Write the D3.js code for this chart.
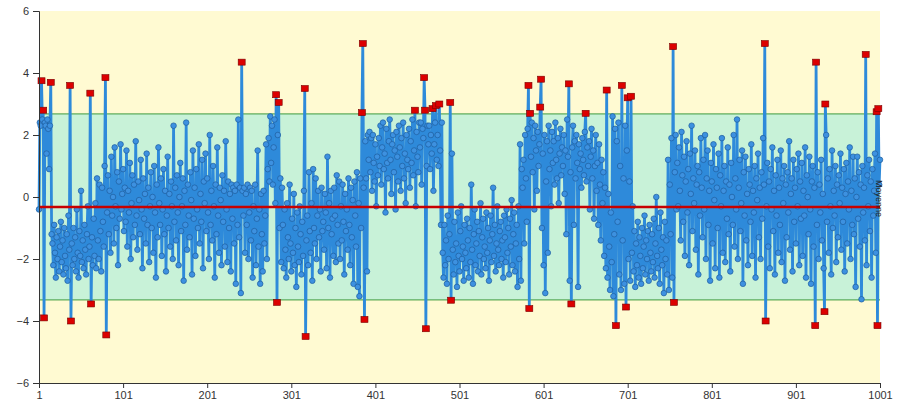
<!DOCTYPE html>
<html>
<head>
<meta charset="utf-8">
<title>Carte de contrôle</title>
<script src="https://cdn.jsdelivr.net/npm/d3@7"></script>
<style>
  body { margin: 0; background: #fff; }
  svg { display: block; font-family: "Liberation Sans", Arial, sans-serif; }
</style>
</head>
<body>
<div id="chart"></div>
<script>
// values, grouped by regime
const segStart = [-0.4, 2.4, 2.3, 3.75, 2.5, 2.8, -3.9, 2.4, 2.3, 1.4, 2.5, 2.2, 0.9, 2.3, 3.7, -1.2];
const segLow1 = [
  -1.5, -2.2, -0.9, -1.8, -2.6, -1.3, -2.0, -1.1, -2.4, -1.6,
  -0.8, -2.1, -1.4, -2.5, -1.0, -1.9, -2.3, -1.2, -2.7, -0.6,
  -1.7, 3.6, -4.0, -1.5, -2.2, -1.0, -2.0, -1.3, -2.4, -0.4,
  -1.8, -2.6, -1.1, -1.9, 0.2, -2.1, -1.4, -2.3, -0.9, -1.7,
  -2.5, -1.2, -0.3, -2.0, -1.6, 3.35, -3.45, -1.3, -2.2, -0.7,
  -1.9, -0.2, -2.3, 0.6, -1.4, -2.0, 0.4, -1.1, -2.4, 0.3,
  -0.8, -1.6, 1.0, 3.85, -4.45, -0.5, 0.7, -1.2, 0.2, -1.8,
  1.3, -0.6, 0.0, -1.5, 1.6, -0.3, -1.0, 0.8, -2.2, 0.5,
  -0.7, 1.7, -0.4, 0.1
];
const segMid1 = [
  0.9, -1.1, 0.3, -0.8, 1.5, -1.6, 0.2, -0.5, 1.1, -2.0,
  -0.2, 0.7, -1.3, 0.4, -0.9, 1.8, -0.6, -1.7, 0.5, -0.1,
  -1.2, 1.2, -0.4, -2.3, 0.6, -0.7, 0.1, -1.5, 1.4, -0.9,
  0.3, -2.1, -0.3, 0.8, -1.0, 0.0, -1.8, 1.0, -0.5, -2.6,
  0.4, -1.3, 1.6, -0.2, -0.9, 0.6, -1.9, -0.4, 0.9, -1.2,
  0.2, -2.4, -0.6, 1.3, -1.0, 0.1, -1.6, 0.5, -0.3, -2.0,
  2.3, -0.8, 0.3, -1.4, 0.7, -0.5, -2.2, 0.0, 1.1, -1.1,
  -0.3, 0.6, -2.7, 0.2, -0.9, 2.4, -1.7, 0.4, -0.6, -1.3,
  0.8, -0.1, -2.5, 1.5, -0.7, 0.3, -1.9, 0.9, -0.4, -1.0,
  1.7, -1.5, 0.1, -0.8, 1.2, -2.3, 0.5, -0.2, 1.4, -1.1,
  0.6, -0.5, -2.0, 2.0, -0.9, 0.2, -1.4, 1.0, -0.3, -2.6,
  0.4, -1.2, 1.6, -0.6, -1.8, 0.3, -0.1, -2.2, 0.7, -0.8,
  0.2, -1.6, 1.8, -0.4, -2.1, 0.5, -1.0, 0.1, -2.4, 0.4,
  -0.7, 0.3, -1.5, 0.2, -2.8, 0.4, -0.9, 2.5, -1.3, 0.3
];
const segMid2 = [
  -3.1, 4.35, 0.2, -0.6, 0.3, -1.8, 0.1, -0.9, 0.4, -2.0,
  -0.5, 0.3, -1.4, 0.2, -2.6, -0.3, -1.1, 0.4, -2.2, -0.7,
  1.5, -1.6, -0.4, -2.8, 0.1, -1.2, -2.4, 0.2, -1.5, -0.6,
  1.7, -2.0, 0.9, 1.9, 0.5, 2.6, 1.1, 2.3, 0.4, 1.6,
  2.5, -0.2, 3.3, -3.4, 2.0, 3.05, -1.0, 0.6, -2.1, 0.3
];
const segLow2 = [
  -0.9, -2.3, -0.4, -1.7, -2.6, -0.2, -1.3, -2.0, 0.4, -1.5,
  -2.4, -0.7, -1.8, 0.1, -2.2, -1.0, -2.9, -0.5, -1.6, -2.1,
  -0.3, -1.2, -2.5, -0.8, -1.9, 0.2, 3.5, -4.5, -1.4, -0.6,
  -2.2, 0.8, -1.1, -1.8, -0.2, -2.7, 0.9, -1.0, -1.5, 0.6,
  -2.0, -0.6, 0.2, -1.3, -0.4, -2.4, 0.3, -1.1, -0.8, -1.7,
  0.1, -0.5, -2.3, 1.3, -1.0, -0.2, -2.6, 0.2, -1.2, -0.7,
  -1.9, 0.3, -0.6, -2.1, 0.7, -0.9, -1.5, 0.5, -2.0, -0.3,
  -1.4, 0.4, -0.8, -2.5, 0.1, -1.1, -0.4, -1.7, 0.6, -0.9,
  -2.2, 0.3, -1.3, -0.1, -2.8, 0.5, -0.6, -1.6, 0.8, -2.9,
  -0.2, -3.2, 0.6, -1.0, 2.72
];
const segHigh1 = [
  4.95, 0.3, -3.95, 1.8, 0.6, -2.4, 2.0, 1.2, 2.1, 0.8,
  1.9, 0.2, 2.0, 1.1, 0.5, 1.7, -0.3, 1.3, 0.7, 1.9,
  1.0, 2.3, 0.4, 1.6, 2.4, 0.9, 1.4, -0.5, 2.2, 1.1,
  0.6, 1.8, 2.5, 1.2, 0.1, 1.7, 2.0, 0.8, 1.5, -0.4,
  2.1, 1.3, 0.5, 2.3, 1.6, 0.2, 1.9, 1.0, 2.4, 0.6,
  1.4, -0.2, 2.0, 1.2, 0.9, 2.2, 0.3, 1.8, 1.1, 2.5,
  0.7, 1.5, 2.8, -0.3, 2.1, 1.3, 0.8, 2.4, 1.6, 2.4,
  0.4, 2.2, 1.9, 3.85, 2.8, -4.25, 1.0, 2.3, 1.7, 2.3,
  0.9, 2.0, 1.4, 2.85, 0.2, 1.7, 2.4, 2.95, 1.2, 2.0,
  1.0, 3.0, 1.5, -0.9, 2.4
];
const segLow3 = [
  -1.8, -2.6, -0.9, -2.2, -1.4, -2.8, -0.6, -2.0, -1.2, 3.05,
  -3.33, 1.4, -1.7, -2.5, -0.8, -2.1, -1.5, -2.9, -0.5, -1.9,
  -2.4, -1.1, -0.3, -2.0, -1.6, -2.7, -0.9, -1.8, -2.3, -0.7,
  -1.4, -2.6, -1.0, -2.1, 0.4, -1.7, -2.8, -1.2, -0.4, -2.2,
  -1.5, -0.8, -2.4, -1.1, -1.9, -0.2, -2.5, -1.3, -0.7, -2.0,
  -1.6, -2.3, -0.5, -1.8, -1.0, -2.7, -1.4, -0.6, -2.1, -1.2,
  0.3, -1.9, -0.9, -2.4, -1.5, -0.3, -1.7, -2.2, -1.1, -0.8,
  -2.0, -1.4, -2.6, -0.6, -1.3, -2.1, -0.4, -1.8, -1.0, -2.5,
  -0.7, -1.6, -0.1, -2.2, -1.2, -0.5, -2.4, -1.5, -0.9, -2.9,
  -0.3, -2.0, 1.7, -2.7, 0.9
];
const segHigh2 = [
  0.3, 1.2, -1.5, 2.0, 0.6, -0.8, 2.2, 3.6, -3.6, 2.7,
  1.3, 2.4, 0.8, 1.9, -0.4, 2.3, 1.5, 0.2, 2.1, 1.0,
  1.7, 2.9, 3.8, -1.0, 1.4, -2.2, 2.0, -3.1, 0.5, 1.8,
  -1.8, 2.3, 0.9, 1.5, -0.3, 2.1, 1.1, 1.8, 0.4, 2.4,
  1.2, 0.6, 1.9, -0.2, 1.4, 2.2, 0.7, 1.6, 1.0, 2.0,
  0.1, 1.5, -1.2, 2.5, 1.3, 3.65, -2.7, 0.8, -3.45, 1.6,
  2.3, -0.9, 1.8, 0.6, 2.0, 1.1, -2.9, 1.7, 0.9, 1.4,
  0.3, 1.9, 1.2, 0.7, 2.1, 2.7, 0.5, 1.6, 1.0, 1.8,
  -0.4, 1.3, 2.2, 0.6, 1.5, -0.7, 1.0, 2.0, 0.2, 1.1,
  -0.9, 1.7, 0.4, -1.4, 1.2, -0.2, 0.8, -1.9, 0.3, -2.3,
  3.45, -2.6, 0.1, -1.6, -3.0
];
const segLow4 = [
  -0.5, -2.1, 2.6, -3.2, -1.2, 2.2, -4.15, 1.8, -0.8, 2.4,
  -2.5, 1.0, -3.0, 3.6, -1.4, 0.6, -2.8, 2.3, -3.55, 1.5,
  3.2, -2.0, 0.5, -2.7, 3.25, -1.8, -0.3, -2.4, -1.1, -2.9,
  -1.5, -2.2, -0.8, -2.6, -1.3, -1.9, -2.8, -1.0, -2.3, -1.6,
  -0.6, -2.5, -1.4, -2.0, -1.1, -2.7, -0.9, -1.8, -2.4, -1.2,
  -2.1, -0.7, -2.6, -1.5, 0.0, -1.9, -2.3, -1.0, -2.8, -0.5,
  -1.7, -2.2, -1.3, -3.1, -0.8, -2.0, -1.4, -2.5, 1.2, -3.0,
  0.4, -1.2, 1.9, -2.6, 4.85, -3.4, 0.8, 2.0, -0.4, 1.1
];
const segEnd = [
  -0.3, 1.6, 0.2, -1.4, 2.1, 0.7, -0.8, 1.3, -1.9, 0.5,
  1.8, -0.5, 0.9, -2.2, 1.4, 0.1, 2.3, -1.1, 0.6, -0.2,
  1.5, -1.7, 0.4, 1.0, -2.5, 0.8, -0.6, 1.9, 0.3, -1.3,
  1.2, -0.4, 2.0, -2.0, 0.6, 1.5, -0.9, 0.2, -2.7, 1.1,
  0.5, -1.5, 1.7, -0.1, -2.3, 0.9, 0.3, -1.0, 1.4, -2.6,
  0.7, -0.3, 1.9, -1.8, 0.2, 1.0, -2.1, 0.5, -0.7, 1.6,
  -1.2, 0.4, -2.4, 1.1, 0.0, -0.9, 2.0, -1.6, 0.6, -0.4,
  2.5, -2.0, 0.3, 1.2, -1.1, -0.2, 1.5, -2.8, 0.8, -0.6,
  1.3, -1.4, 0.1, -2.2, 0.9, 0.4, -0.8, 1.7, -1.9, 0.2,
  -0.5, 1.0, -2.6, 0.6, -0.1, 1.4, -1.3, 0.3, -2.0, 0.8,
  -0.7, 1.9, 0.4, 4.95, -4.0, -0.3, 1.1, -1.6, 0.5, -2.3,
  0.9, -0.4, 1.6, -1.1, 0.2, -2.5, 0.7, -0.6, 1.2, -1.8,
  0.3, -0.9, 1.5, -2.1, 0.6, -0.2, 1.0, -2.7, 0.4, -1.3,
  0.8, -0.5, 1.8, -1.7, 0.1, 0.6, -2.4, 1.2, -0.8, 0.3,
  -1.5, 0.9, -0.3, 1.4, -2.2, 0.5, -0.7, 1.1, -1.9, 0.2,
  -0.6, 1.6, -2.6, 0.7, 0.0, -1.2, 1.3, -0.4, -2.8, 0.5,
  1.0, -1.6, 0.3, -4.15, 4.35, -0.9, 0.8, -2.0, 0.4, -0.5,
  1.2, -1.4, 0.1, -2.3, -3.7, 3.0, 2.0, -0.8, 0.6, -1.8,
  0.9, -0.3, -2.5, 1.5, -1.0, 0.2, -0.6, 1.0, -2.1, 0.4,
  -1.3, 0.7, -0.2, 1.4, -1.7, 0.3, -0.8, 0.9, -2.4, 0.1,
  1.1, -1.5, 0.5, -0.4, 1.6, -2.0, 0.2, -0.9, 1.3, -1.2,
  0.6, -2.9, 0.0, 1.3, -0.7, 0.8, -1.6, 0.4, -3.3, 1.0,
  -0.5, 0.3, -1.4, 4.6, -2.2, 0.7, -0.3, 1.2, -1.1, 0.5,
  -2.6, 0.9, -0.6, 0.2, 1.4, -1.8, 2.75, -4.15, 2.85, 0.4,
  1.2
];

const meanValue = -0.32;
const upperLimit = 2.68;
const lowerLimit = -3.32;
const yTicks = [-6, -4, -2, 0, 2, 4, 6];
const xTicks = [1, 101, 201, 301, 401, 501, 601, 701, 801, 901, 1001];

const values = [].concat(segStart, segLow1, segMid1, segMid2, segLow2,
                         segHigh1, segLow3, segHigh2, segLow4, segEnd);
const data = values.map((v, i) => ({ n: i + 1, v: v }));

const W = 900, H = 407;
const mLeft = 39, mRight = 880, mTop = 11, mBottom = 383;

const svg = d3.select("#chart").append("svg")
    .attr("width", W).attr("height", H);

const x = d3.scaleLinear().domain([1, 1001]).range([mLeft, mRight]);
const y = d3.scaleLinear().domain([-6, 6]).range([mBottom, mTop]);

// background zones
svg.append("rect")
    .attr("x", mLeft).attr("y", mTop)
    .attr("width", mRight - mLeft).attr("height", mBottom - mTop)
    .attr("fill", "#fffad2");

svg.append("rect")
    .attr("x", mLeft).attr("y", y(upperLimit))
    .attr("width", mRight - mLeft).attr("height", y(lowerLimit) - y(upperLimit))
    .attr("fill", "#c8f2d8");

svg.selectAll("line.limit")
    .data([upperLimit, lowerLimit])
    .join("line")
    .attr("class", "limit")
    .attr("x1", mLeft).attr("x2", mRight)
    .attr("y1", d => y(d)).attr("y2", d => y(d))
    .attr("stroke", "#3e9a3e").attr("stroke-width", 1);

// series line
svg.append("path")
    .datum(data)
    .attr("fill", "none")
    .attr("stroke", "#2e8ada")
    .attr("stroke-width", 2.8)
    .attr("stroke-linejoin", "round")
    .attr("d", d3.line().x(d => x(d.n)).y(d => y(d.v)));

const inside = data.filter(d => d.v <= upperLimit && d.v >= lowerLimit);
const outside = data.filter(d => d.v > upperLimit || d.v < lowerLimit);

svg.append("g")
    .selectAll("circle")
    .data(inside)
    .join("circle")
    .attr("cx", d => x(d.n)).attr("cy", d => y(d.v))
    .attr("r", 2.8)
    .attr("fill", "#3d91e0")
    .attr("stroke", "#1e5d9e")
    .attr("stroke-width", 0.7);

// mean line, over the markers
svg.append("line")
    .attr("x1", mLeft).attr("x2", mRight)
    .attr("y1", y(meanValue)).attr("y2", y(meanValue))
    .attr("stroke", "#c80000").attr("stroke-width", 2.5);

svg.append("g")
    .selectAll("rect")
    .data(outside)
    .join("rect")
    .attr("x", d => x(d.n) - 3.5).attr("y", d => y(d.v) - 3)
    .attr("width", 7).attr("height", 6)
    .attr("fill", "#dc0000")
    .attr("stroke", "#7a0000")
    .attr("stroke-width", 0.6);

// label for the mean
svg.append("text")
    .attr("transform", `translate(${mRight - 4},${y(meanValue) - 27}) rotate(90)`)
    .attr("font-size", 9)
    .attr("fill", "#222")
    .text("Moyenne");

// axes
const yAxis = d3.axisLeft(y).tickValues(yTicks).tickSize(6).tickPadding(4);
const gy = svg.append("g").attr("transform", `translate(${mLeft},0)`).call(yAxis);
const xAxis = d3.axisBottom(x).tickValues(xTicks).tickFormat(d3.format("d")).tickSize(5).tickPadding(3);
const gx = svg.append("g").attr("transform", `translate(0,${mBottom})`).call(xAxis);

[gy, gx].forEach(g => {
  g.select(".domain").attr("stroke", "#333");
  g.selectAll(".tick line").attr("stroke", "#333");
  g.selectAll(".tick text")
    .attr("fill", "#333")
    .attr("font-size", 11)
    .attr("font-family", "Liberation Sans, Arial, sans-serif");
});
</script>
</body>
</html>
